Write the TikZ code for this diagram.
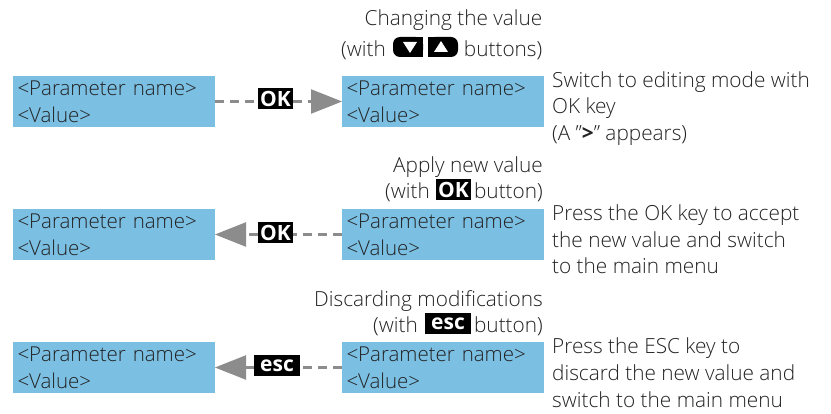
\documentclass[tikz,border=0pt]{standalone}
\usepackage{fontspec}
\setmainfont{Open Sans Light}[BoldFont={Open Sans Bold}]
\usetikzlibrary{arrows.meta}
\definecolor{lcdblue}{HTML}{7BBFE3}
\definecolor{arrowgray}{HTML}{8C8C8C}
\definecolor{textdark}{HTML}{222222}
\tikzset{
    lcd/.style={fill=lcdblue,minimum width=202pt,minimum height=51pt,inner sep=0pt,outer sep=0pt,text=textdark,font=\fontsize{20.5}{27}\selectfont,align=left,text width=193pt},
    caption/.style={anchor=base east,inner sep=0pt,text=textdark,font=\fontsize{20.8}{23}\selectfont},
    note/.style={anchor=base west,inner sep=0pt,text=textdark,font=\fontsize{20.8}{23}\selectfont},
    key/.style={fill=black,text=white,inner sep=0pt,outer sep=0pt,minimum height=21pt,font=\fontsize{21}{21}\bfseries\selectfont},
    dashline/.style={draw=arrowgray,line width=2.5pt,dash pattern=on 9pt off 6pt},
    tipline/.style={dashline,-{Triangle[length=31pt,width=24pt,fill=arrowgray]}},
}
\begin{document}
\begin{tikzpicture}[x=1pt,y=-1pt]
    \useasboundingbox (0,0) rectangle (831,414);
    % first row
    \node[lcd] (P1) at (114,101.5) {<Parameter name>\\<Value>};
    \node[lcd] (Q1) at (443,101.5) {<Parameter name>\\<Value>};
    \node[key,minimum width=35pt] (K1) at (275.5,99) {OK};
    \draw[dashline] (P1.east) -- (K1.west|-P1.east);
    \draw[tipline] (K1.east|-Q1.west) -- (Q1.west);
    \node[caption] (C1) at (542.5,26) {Changing the value};
    \node[caption] (D1) at (542.5,57) {buttons)};
    \node[caption] (E1) at (386,57) {(with};
    \fill[black,rounded corners=7pt] (393,37) -- (423,37) -- (423,57) -- (393,57) -- cycle;
    \fill[black] (405,37) rectangle (423,57);
    \fill[white] (403,42) -- (417,42) -- (410,53) -- cycle;
    \fill[black,rounded corners=7pt] (428,37) -- (458,37) -- (458,57) -- (428,57) -- cycle;
    \fill[black] (428,37) rectangle (446,57);
    \fill[white] (434,52) -- (448,52) -- (441,41) -- cycle;
    \node[note] (N11) at (552,87.5) {Switch to editing mode with};
    \node[note] (N12) at (552,114) {OK key};
    \node[note] (N13) at (552,141) {(A "\textbf{>}" appears)};
    % second row
    \node[lcd] (P2) at (114,234.5) {<Parameter name>\\<Value>};
    \node[lcd] (Q2) at (443,234.5) {<Parameter name>\\<Value>};
    \node[key,minimum width=35pt] (K2) at (275.5,232.5) {OK};
    \draw[dashline] (Q2.west) -- (K2.east|-Q2.west);
    \draw[tipline] (K2.west|-P2.east) -- (P2.east);
    \node[caption] (C2) at (543,173) {Apply new value};
    \node[caption] (D2) at (543,199) {button)};
    \node[caption] (E2) at (430,199) {(with};
    \node[key,minimum width=35pt] (B2) at (453.5,189.5) {OK};
    \node[note] (N21) at (552,220.5) {Press the OK key to accept};
    \node[note] (N22) at (552,247.5) {the new value and switch};
    \node[note] (N23) at (552,274) {to the main menu};
    % third row
    \node[lcd] (P3) at (114,367.5) {<Parameter name>\\<Value>};
    \node[lcd] (Q3) at (443,367.5) {<Parameter name>\\<Value>};
    \node[key,minimum width=46pt] (K3) at (277,365.5) {esc};
    \draw[dashline] (Q3.west) -- (K3.east|-Q3.west);
    \draw[tipline] (K3.west|-P3.east) -- (P3.east);
    \node[caption] (C3) at (543,307) {Discarding modifications};
    \node[caption] (D3) at (543,333) {button)};
    \node[caption] (E3) at (418,333) {(with};
    \node[key,minimum width=46pt] (B3) at (448,323.5) {esc};
    \node[note] (N31) at (552,353.5) {Press the ESC key to};
    \node[note] (N32) at (552,380.5) {discard the new value and};
    \node[note] (N33) at (552,407) {switch to the main menu};
\end{tikzpicture}
\end{document}
